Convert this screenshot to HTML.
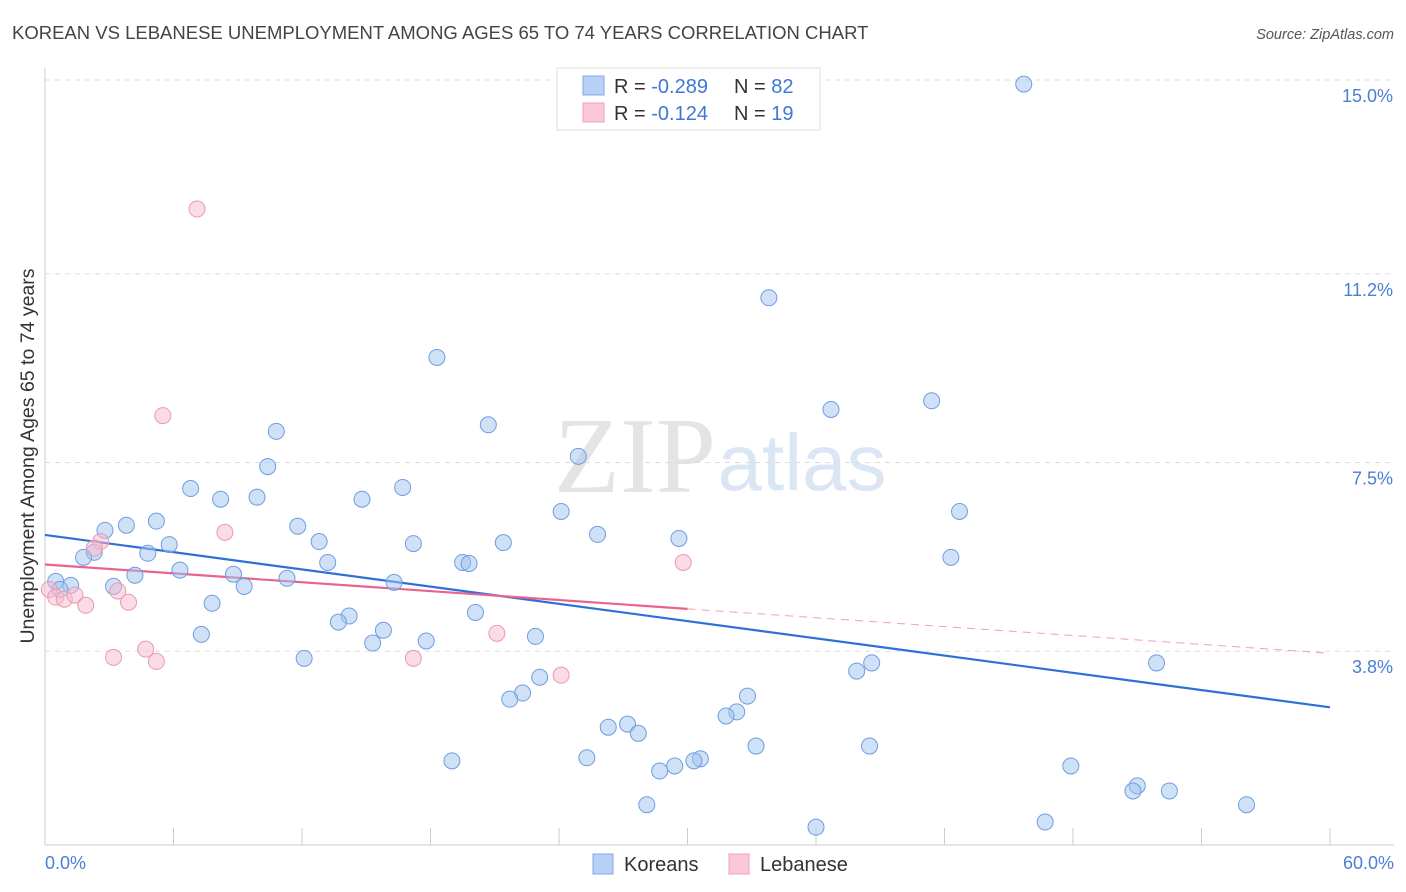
<!DOCTYPE html>
<html><head><meta charset="utf-8"><style>
body{margin:0;background:#fff;font-family:"Liberation Sans",sans-serif;}
svg{display:block}
</style></head><body>
<svg id="chart" width="1406" height="892" xmlns="http://www.w3.org/2000/svg">
<text x="12" y="39" font-size="18.5" fill="#444">KOREAN VS LEBANESE UNEMPLOYMENT AMONG AGES 65 TO 74 YEARS CORRELATION CHART</text>
<text x="1394" y="39" font-size="14.5" fill="#555" font-style="italic" text-anchor="end">Source: ZipAtlas.com</text>
<text x="635" y="492" font-size="108" fill="#e4e4e4" font-family="Liberation Serif,serif" text-anchor="middle">ZIP</text>
<text x="802" y="490" font-size="80" fill="#dbe6f5" text-anchor="middle">atlas</text>
<g id="grid"></g>
<g id="axes"></g>
<g id="trends"></g>
<g id="points"></g>
<text transform="translate(34,456) rotate(-90)" font-size="19.5" fill="#333" text-anchor="middle">Unemployment Among Ages 65 to 74 years</text>
<text x="45" y="869" font-size="18" fill="#4a7fd4">0.0%</text>
<text x="1394" y="869" font-size="18" fill="#4a7fd4" text-anchor="end">60.0%</text>
<g>
<rect x="557" y="68" width="263" height="62" fill="#fff" stroke="#ddd"/>
<rect x="583" y="76" width="21" height="19" fill="#b8d0f5" stroke="#80a8e8"/>
<rect x="583" y="103" width="21" height="19" fill="#fac8d6" stroke="#f0a0b8"/>
<text x="614" y="93" font-size="20" fill="#333">R = <tspan fill="#3d78d8">-0.289</tspan></text>
<text x="734" y="93" font-size="20" fill="#333">N = <tspan fill="#3d78d8">82</tspan></text>
<text x="614" y="120" font-size="20" fill="#333">R = <tspan fill="#3d78d8"> -0.124</tspan></text>
<text x="734" y="120" font-size="20" fill="#333">N = <tspan fill="#3d78d8"> 19</tspan></text>
</g>
<g>
<rect x="593" y="854" width="20" height="20" fill="#b8d0f5" stroke="#80a8e8"/>
<text x="624" y="871" font-size="20" fill="#333">Koreans</text>
<rect x="729" y="854" width="20" height="20" fill="#fac8d6" stroke="#f0a0b8"/>
<text x="760" y="871" font-size="20" fill="#333">Lebanese</text>
</g>
</svg>
<script>
const yTicks=[15.0,11.2,7.5,3.8];
const yTickLabels=["15.0%","11.2%","7.5%","3.8%"];
const xTicks=[0,6,12,18,24,30,36,42,48,54,60];
const koreanX=[45.7,33.8,18.3,36.7,41.4,20.7,10.8,24.9,10.4,6.8,16.7,8.2,9.9,14.8,24.1,42.7,5.2,3.8,2.8,11.8,25.8,29.6,12.8,17.2,21.4,5.8,4.8,2.3,1.8,42.3,13.2,19.5,19.8,6.3,4.2,8.8,11.3,16.3,3.2,9.3,1.2,0.5,0.7,7.8,20.1,14.2,13.7,15.8,7.3,22.9,17.8,15.3,12.1,38.6,37.9,51.9,23.1,32.8,22.3,21.7,32.3,31.8,27.2,26.3,27.7,33.2,38.5,19.0,25.3,30.6,30.3,29.4,28.7,47.9,51.0,50.8,52.5,28.1,56.1,36.0,46.7];
const koreanY=[14.92,10.73,9.56,8.54,8.71,8.24,8.11,7.62,7.42,6.99,7.01,6.78,6.82,6.78,6.54,6.54,6.35,6.27,6.17,6.25,6.09,6.01,5.95,5.91,5.93,5.89,5.72,5.74,5.64,5.64,5.54,5.54,5.52,5.39,5.29,5.31,5.23,5.15,5.07,5.07,5.09,5.17,5.01,4.74,4.56,4.49,4.37,4.21,4.13,4.09,4.00,3.96,3.66,3.57,3.41,3.57,3.29,2.92,2.98,2.86,2.61,2.53,2.37,2.31,2.19,1.94,1.94,1.65,1.71,1.69,1.65,1.55,1.45,1.55,1.16,1.06,1.06,0.79,0.79,0.35,0.45];
const lebX=[7.1,5.5,8.4,2.6,2.3,29.8,0.2,0.5,0.9,1.4,1.9,3.4,3.9,21.1,4.7,3.2,5.2,17.2,24.1];
const lebY=[12.47,8.42,6.13,5.95,5.82,5.54,5.01,4.86,4.82,4.90,4.70,4.98,4.76,4.15,3.84,3.68,3.60,3.66,3.33];
const koreanTrend=[6.08,2.70];
const lebTrend=[5.50,3.76];
const lebSolidEnd=30;
const NS="http://www.w3.org/2000/svg";
const X=v=>45+v/60*1285;
const Y=v=>845-v/15*765;
function mk(tag,attrs,parent){const e=document.createElementNS(NS,tag);for(const k in attrs)e.setAttribute(k,attrs[k]);document.getElementById(parent).appendChild(e);return e;}
yTicks.forEach((t,i)=>{
 const g=mk('line',{x1:45,x2:1394,y1:Y(t),y2:Y(t),stroke:'#ddd','stroke-dasharray':'5,5'},'grid');
 
 
 const l=mk('text',{x:1393,y:Y(t)+22,'font-size':18,fill:'#4a7fd4','text-anchor':'end'},'grid');
 l.textContent=yTickLabels[i];
 
 
});
const ya=mk('line',{x1:45,x2:45,y1:68,y2:845,stroke:'#ccc'},'axes');


const xa=mk('line',{x1:45,x2:1394,y1:845,y2:845,stroke:'#ccc'},'axes');


xTicks.forEach(t=>{
 const k=mk('line',{x1:X(t),x2:X(t),y1:828,y2:845,stroke:'#ccc'},'axes');
 
 
});
const kt=mk('line',{x1:X(0),y1:Y(koreanTrend[0]),x2:X(60),y2:Y(koreanTrend[1]),stroke:'#2f6fd8','stroke-width':2.2},'trends');


const ly=lebTrend[0]+(lebTrend[1]-lebTrend[0])*lebSolidEnd/60;
const lt=mk('line',{x1:X(0),y1:Y(lebTrend[0]),x2:X(lebSolidEnd),y2:Y(ly),stroke:'#e8648c','stroke-width':2.2},'trends');


const ld=mk('line',{x1:X(lebSolidEnd),y1:Y(ly),x2:X(60),y2:Y(lebTrend[1]),stroke:'#eea0b8','stroke-width':1,'stroke-dasharray':'8,6'},'trends');


koreanX.forEach((x,i)=>{
 const c=mk('circle',{cx:X(x),cy:Y(koreanY[i]),r:8,fill:'rgba(160,195,240,0.5)',stroke:'#6f9de0','stroke-width':1},'points');
 
 
});
lebX.forEach((x,i)=>{
 const c=mk('circle',{cx:X(x),cy:Y(lebY[i]),r:8,fill:'rgba(248,185,205,0.5)',stroke:'#eb98b2','stroke-width':1},'points');
 
 
});
</script>
</body></html>
